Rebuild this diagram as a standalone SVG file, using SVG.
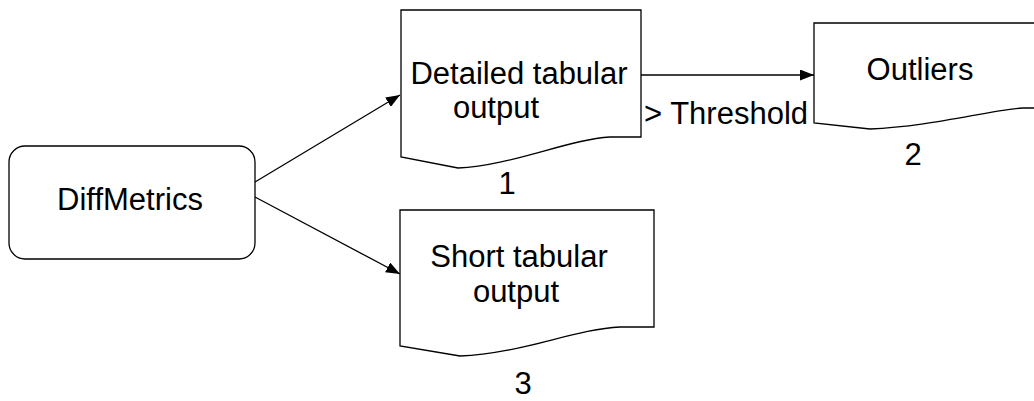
<svg xmlns="http://www.w3.org/2000/svg" width="1034" height="401" viewBox="0 0 1034 401">
<defs>
<style>
.shape{fill:#fff;stroke:#000;stroke-width:1.3}
.t{font-family:"Liberation Sans",Arial,sans-serif;font-size:31px;fill:#000;text-anchor:middle}
.c{fill:none;stroke:#000;stroke-width:1.3}
</style>
<marker id="arr" viewBox="0 0 14 11" refX="14" refY="5.5" markerWidth="14" markerHeight="11" markerUnits="userSpaceOnUse" orient="auto">
<path d="M0,0 L14,5.5 L0,11 Z" fill="#000"/>
</marker>
</defs>
<rect width="1034" height="401" fill="#fff"/>
<g id="connectors">
<line class="c" x1="255" y1="182" x2="400" y2="95" marker-end="url(#arr)"/>
<line class="c" x1="255" y1="197" x2="400" y2="274" marker-end="url(#arr)"/>
<line class="c" x1="641" y1="75" x2="814" y2="75" marker-end="url(#arr)"/>
<text class="t" x="644" y="124" style="text-anchor:start">&gt; Threshold</text>
</g>
<g id="diffmetrics">
<rect class="shape" x="9" y="146" width="246" height="113" rx="16" ry="16"/>
<text class="t" x="130" y="210">DiffMetrics</text>
</g>
<g id="detailed">
<path class="shape" d="M401,10 H641 V137 H610 C570,139 510,166 458,168 L401,157 Z"/>
<text class="t" x="519" y="84">Detailed tabular</text>
<text class="t" x="496" y="118">output</text>
<text class="t" x="507" y="194">1</text>
</g>
<g id="outliers">
<path class="shape" d="M814,23 H1054 V108 H1023 C990,110 930,127 870,129 L814,123 Z"/>
<text class="t" x="920" y="80">Outliers</text>
<text class="t" x="913" y="165">2</text>
</g>
<g id="short">
<path class="shape" d="M400,210 H654 V327 H620 C575,329 520,354 460,356 L400,346 Z"/>
<text class="t" x="519" y="267">Short tabular</text>
<text class="t" x="516" y="302">output</text>
<text class="t" x="523" y="394">3</text>
</g>
</svg>
